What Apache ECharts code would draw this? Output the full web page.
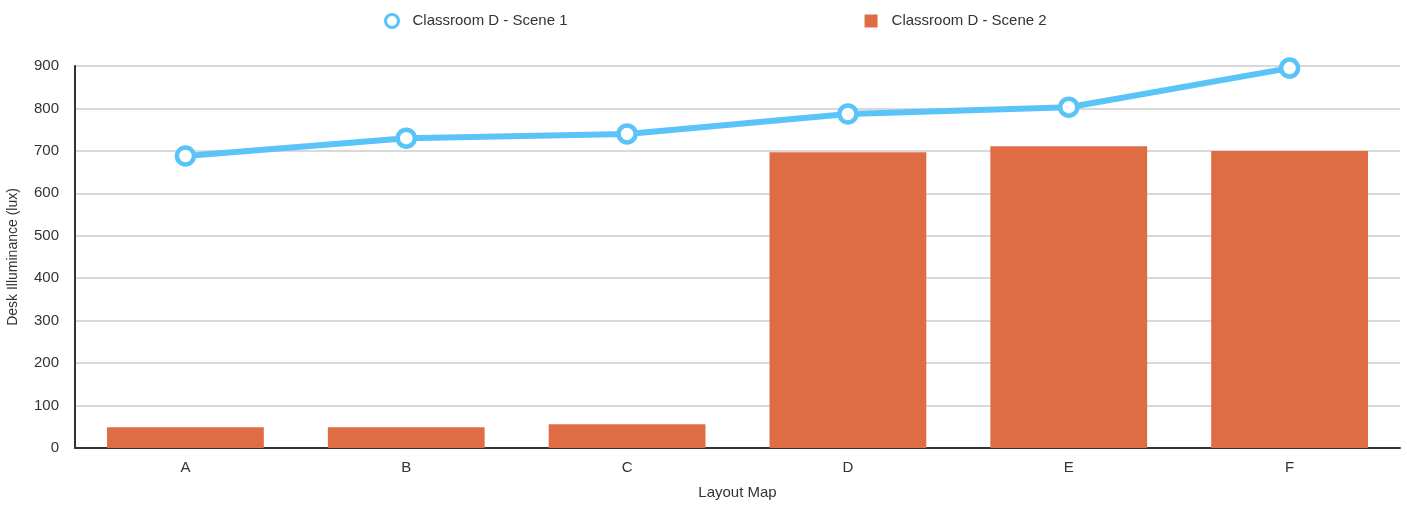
<!DOCTYPE html>
<html>
<head>
<meta charset="utf-8">
<script src="https://cdn.jsdelivr.net/npm/echarts@6/dist/echarts.min.js"></script>
<style>
  html, body { margin: 0; padding: 0; background: #fff; }
  #chart { width: 1407px; height: 510px; }
</style>
</head>
<body>
<div id="chart"></div>
<script>
// layout positions on the map
const categories = ['A', 'B', 'C', 'D', 'E', 'F'];
// desk illuminance (lux)
const scene1 = [688, 730, 740, 787, 803, 895];
const scene2 = [49, 49, 56, 697, 711, 700];

const chart = echarts.init(document.getElementById('chart'));

const blue = '#5ac4f8';
const orange = '#df6d43';

const option = {
  animation: false,
  textStyle: { fontFamily: 'Liberation Sans, Arial, sans-serif' },
  legend: {
    top: 8,
    left: 379,
    itemGap: 297,
    itemWidth: 13,
    itemHeight: 13,
    textStyle: { fontSize: 15, color: '#333', padding: [0, 0, 0, 9] },
    data: [
      {
        name: 'Classroom D - Scene 1',
        icon: 'circle',
        itemStyle: { color: '#fff', borderColor: blue, borderWidth: 3 }
      },
      { name: 'Classroom D - Scene 2', icon: 'rect', itemStyle: { color: orange } }
    ]
  },
  grid: { left: 75, right: 7, top: 66, bottom: 62, outerBoundsMode: 'none' },
  xAxis: {
    type: 'category',
    data: categories,
    name: 'Layout Map',
    nameLocation: 'middle',
    nameGap: 37,
    nameTextStyle: { fontSize: 15, color: '#333' },
    axisLine: { lineStyle: { color: '#333', width: 2 } },
    axisTick: { show: false },
    axisLabel: { fontSize: 15, color: '#333', margin: 12 }
  },
  yAxis: {
    type: 'value',
    min: 0,
    max: 900,
    interval: 100,
    name: 'Desk Illuminance (lux)',
    nameLocation: 'middle',
    nameGap: 55,
    nameTextStyle: { fontSize: 14, color: '#333' },
    axisLine: { show: true, lineStyle: { color: '#333', width: 2 } },
    axisTick: { show: false },
    axisLabel: { fontSize: 15, color: '#333', margin: 16 },
    splitLine: { lineStyle: { color: '#ccc', width: 1.5 } }
  },
  series: [
    {
      name: 'Classroom D - Scene 2',
      type: 'bar',
      data: scene2,
      barCategoryGap: '29%',
      itemStyle: { color: orange },
      z: 1
    },
    {
      name: 'Classroom D - Scene 1',
      type: 'line',
      data: scene1,
      symbol: 'circle',
      symbolSize: 17,
      lineStyle: { color: blue, width: 6 },
      itemStyle: { color: '#fff', borderColor: blue, borderWidth: 4.5 },
      z: 3
    }
  ]
};

chart.setOption(option);
</script>
</body>
</html>
